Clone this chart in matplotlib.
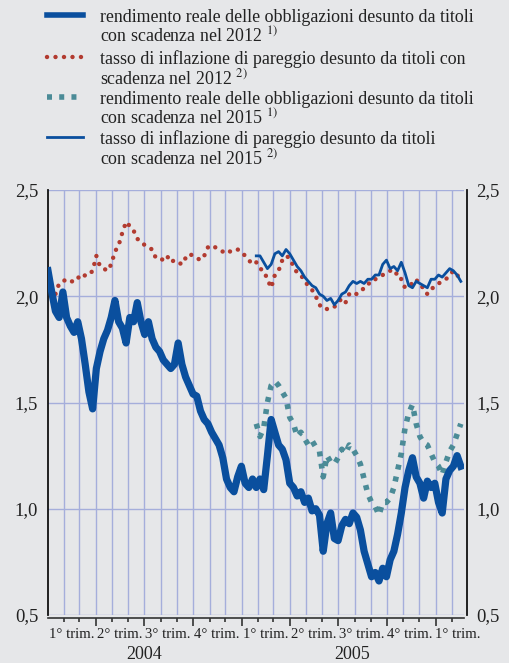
import numpy as np
import pandas as pd
import matplotlib
matplotlib.use("Agg")
import matplotlib.pyplot as plt
import matplotlib.dates as mdates
from matplotlib.lines import Line2D

# weekly readings, from early January 2004 to late February 2006
start = '2004-01-02'

real_2012 = [2.12, 2.02, 1.93, 1.90, 2.02, 1.90, 1.86, 1.83, 1.88, 1.80,
             1.68, 1.55, 1.47, 1.66, 1.74, 1.80, 1.84, 1.90, 1.98, 1.88,
             1.85, 1.78, 1.90, 1.88, 1.97, 1.88, 1.82, 1.88, 1.80, 1.76,
             1.74, 1.70, 1.68, 1.66, 1.68, 1.78, 1.68, 1.62, 1.58, 1.54,
             1.53, 1.46, 1.42, 1.40, 1.36, 1.33, 1.30, 1.24, 1.14, 1.10,
             1.08, 1.15, 1.20, 1.12, 1.10, 1.14, 1.10, 1.14, 1.09, 1.25,
             1.42, 1.36, 1.30, 1.28, 1.23, 1.12, 1.10, 1.06, 1.08, 1.03,
             1.05, 0.99, 1.00, 0.97, 0.80, 0.93, 0.98, 0.86, 0.85, 0.92,
             0.95, 0.93, 0.98, 0.96, 0.90, 0.80, 0.74, 0.68, 0.70, 0.66,
             0.72, 0.68, 0.76, 0.80, 0.88, 0.98, 1.10, 1.18, 1.24, 1.15,
             1.12, 1.05, 1.13, 1.10, 1.12, 1.03, 0.98, 1.14, 1.18, 1.20,
             1.25, 1.20]

be_2012 = [2.08, 2.04, 2.01, 2.06, 2.07, 2.08, 2.07, 2.07, 2.09, 2.08,
           2.10, 2.10, 2.12, 2.19, 2.14, 2.13, 2.12, 2.15, 2.21, 2.24,
           2.30, 2.35, 2.33, 2.31, 2.27, 2.26, 2.24, 2.23, 2.22, 2.18,
           2.18, 2.17, 2.19, 2.16, 2.17, 2.16, 2.15, 2.18, 2.20, 2.19,
           2.18, 2.17, 2.19, 2.23, 2.24, 2.23, 2.22, 2.21, 2.22, 2.21,
           2.21, 2.22, 2.21, 2.19, 2.17, 2.15, 2.16, 2.13, 2.12, 2.08,
           2.04, 2.10, 2.12, 2.17, 2.19, 2.18, 2.14, 2.11, 2.10, 2.07,
           2.05, 2.03, 2.00, 1.96, 1.94, 1.94, 1.95, 1.95, 1.97, 1.99,
           1.97, 2.01, 2.02, 2.01, 2.02, 2.04, 2.06, 2.06, 2.08, 2.09,
           2.10, 2.11, 2.12, 2.10, 2.11, 2.08, 2.04, 2.05, 2.06, 2.08,
           2.05, 2.04, 2.01, 2.03, 2.05, 2.06, 2.07, 2.08, 2.10, 2.12,
           2.10, 2.08]

# 2015 bonds start end of January 2005
real_2015 = [1.40, 1.34, 1.38, 1.50, 1.58, 1.60, 1.58, 1.55, 1.52, 1.43,
             1.40, 1.34, 1.36, 1.33, 1.30, 1.32, 1.29, 1.27, 1.15, 1.25,
             1.22, 1.21, 1.24, 1.28, 1.26, 1.30, 1.28, 1.25, 1.21, 1.14,
             1.07, 1.03, 1.01, 0.97, 1.03, 1.03, 1.05, 1.10, 1.18, 1.26,
             1.38, 1.45, 1.49, 1.40, 1.34, 1.31, 1.30, 1.26, 1.22, 1.20,
             1.16, 1.22, 1.27, 1.30, 1.35, 1.40]

be_2015 = [2.19, 2.19, 2.16, 2.13, 2.15, 2.20, 2.21, 2.19, 2.22, 2.20,
           2.17, 2.14, 2.12, 2.09, 2.07, 2.05, 2.04, 2.01, 2.00, 1.98,
           1.99, 1.96, 1.98, 2.01, 2.02, 2.05, 2.07, 2.06, 2.07, 2.06,
           2.08, 2.08, 2.10, 2.10, 2.15, 2.17, 2.13, 2.14, 2.12, 2.16,
           2.11, 2.05, 2.04, 2.07, 2.06, 2.05, 2.04, 2.08, 2.08, 2.10,
           2.09, 2.11, 2.13, 2.12, 2.10, 2.07]

quarter_labels = ['1° trim.', '2° trim.', '3° trim.', '4° trim.',
                  '1° trim.', '2° trim.', '3° trim.', '4° trim.', '1° trim.']
quarter_pos = ['2004-02-15', '2004-05-16', '2004-08-15', '2004-11-15',
               '2005-02-14', '2005-05-16', '2005-08-15', '2005-11-12', '2006-02-12']
years = ['2004', '2005']
year_pos = ['2004-07-01', '2005-07-28']

legend_labels = [
    ('rendimento reale delle obbligazioni desunto da titoli', 'con scadenza nel 2012 $^{1)}$'),
    ('tasso di inflazione di pareggio desunto da titoli con', 'scadenza nel 2012 $^{2)}$'),
    ('rendimento reale delle obbligazioni desunto da titoli', 'con scadenza nel 2015 $^{1)}$'),
    ('tasso di inflazione di pareggio desunto da titoli', 'con scadenza nel 2015 $^{2)}$'),
]

dates = pd.date_range(start, periods=len(real_2012), freq='7D')
dates_2015 = dates[len(dates) - len(real_2015):]

bg = '#e6e7e9'
blue = '#0a4f9e'
red = '#b23b30'
teal = '#4b8b97'
gridc = '#a5aedb'
txt = '#222222'

plt.rcParams['font.family'] = ['Liberation Serif', 'DejaVu Serif']
plt.rcParams['mathtext.fontset'] = 'stix'

fig = plt.figure(figsize=(5.1, 6.63), dpi=100, facecolor=bg)
ax = fig.add_axes([48/510, 1-615/663, (464-48)/510, (615-190)/663])
ax.set_facecolor(bg)

red_style = dict(color=red, lw=3.2, linestyle=(0, (0.01, 1.9)), dash_capstyle='round')
teal_style = dict(color=teal, lw=4.0, linestyle=(0, (0.9, 1.3)), dash_capstyle='butt')

ax.plot(dates, be_2012, zorder=3, **red_style)
ax.plot(dates_2015, real_2015, zorder=3, **teal_style)
ax.plot(dates_2015, be_2015, color=blue, lw=2.0, zorder=4)
ax.plot(dates, real_2012, color=blue, lw=5.2, zorder=5)

ax.set_ylim(0.5, 2.5)
ax.set_xlim(pd.Timestamp('2004-01-02'), pd.Timestamp('2006-02-23'))
ax.set_yticks([0.5, 1.0, 1.5, 2.0, 2.5])
ax.set_yticklabels(['0,5', '1,0', '1,5', '2,0', '2,5'])
ax.tick_params(axis='y', length=0, pad=7, labelsize=13.5, labelright=True,
               labelcolor=txt)

ax.xaxis.set_major_locator(mdates.MonthLocator(bymonth=[1, 4, 7, 10]))
ax.xaxis.set_minor_locator(mdates.MonthLocator())
ax.xaxis.set_major_formatter(plt.NullFormatter())
ax.tick_params(axis='x', which='major', direction='out', length=6, width=1.2, color='#333333')
ax.tick_params(axis='x', which='minor', direction='out', length=3, width=1.2, color='#333333')

ax.grid(True, axis='y', color=gridc, lw=1.0, zorder=0)
ax.grid(True, axis='x', which='both', color=gridc, lw=1.0, zorder=0)

ax.spines['top'].set_visible(False)
ax.spines['left'].set_color('#111111')
ax.spines['left'].set_linewidth(1.3)
ax.spines['right'].set_color('#111111')
ax.spines['right'].set_linewidth(1.3)
ax.spines['right'].set_position(('outward', 2))
ax.spines['bottom'].set_color('#333333')
ax.spines['bottom'].set_linewidth(1.2)
ax.spines['bottom'].set_position(('outward', 2))

trans = ax.get_xaxis_transform()
for lab, d in zip(quarter_labels, quarter_pos):
    ax.text(pd.Timestamp(d), -0.045, lab, transform=trans, ha='center', va='center',
            fontsize=10.6, color=txt)
for lab, d in zip(years, year_pos):
    ax.text(pd.Timestamp(d), -0.093, lab, transform=trans, ha='center', va='center',
            fontsize=13, color=txt)

# legend drawn by hand
styles = [dict(color=blue, lw=4.0), red_style, teal_style, dict(color=blue, lw=2.0)]
rows = [15, 57, 97, 137]
for (l1, l2), st, y in zip(legend_labels, styles, rows):
    fy = 1 - y / 663
    fig.add_artist(Line2D([47/510, 83/510], [fy, fy], transform=fig.transFigure, **st))
    fig.text(100/510, 1 - (y + 2) / 663, l1, ha='left', va='center', fontsize=12.9, color=txt)
    fig.text(100/510, 1 - (y + 21) / 663, l2, ha='left', va='center', fontsize=12.9, color=txt)

fig.savefig('out.png', dpi=100, facecolor=bg)
